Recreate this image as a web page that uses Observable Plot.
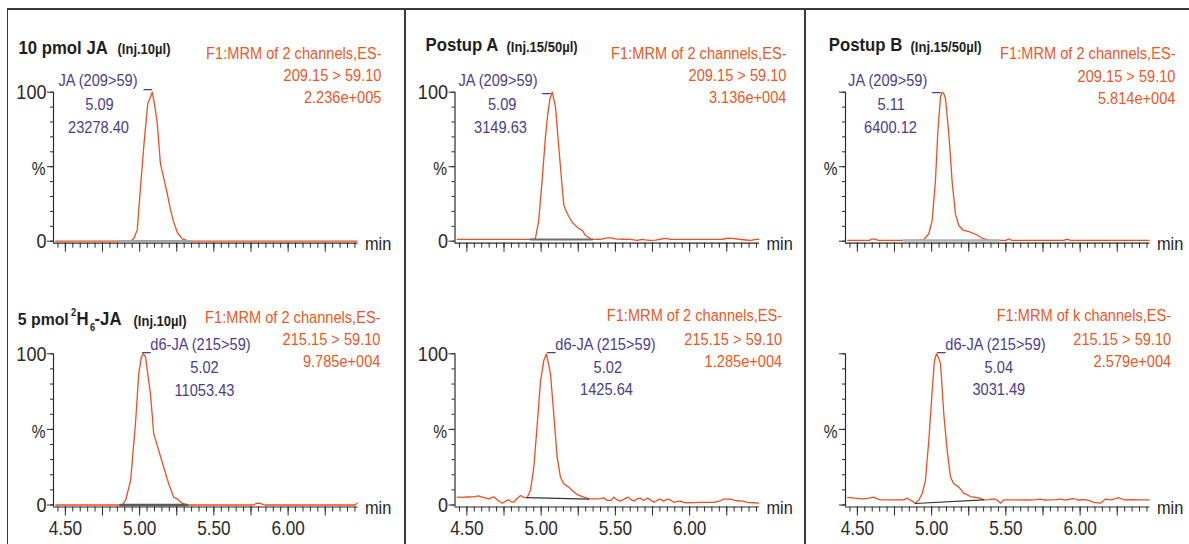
<!DOCTYPE html>
<html><head><meta charset="utf-8">
<script src="https://cdn.jsdelivr.net/npm/d3@7"></script>
<script src="https://cdn.jsdelivr.net/npm/@observablehq/plot@0.6"></script>
<style>
html,body{margin:0;padding:0;background:#fff;}
#wrap{position:relative;width:1189px;height:544px;overflow:hidden;background:#fff;}
#wrap svg{position:absolute;overflow:visible;background:transparent;}
.rule{position:absolute;background:#3a3a3a;}
</style></head><body><div id="wrap"></div>
<script>
// ---------------- data ----------------
// 10 pmol JA standard, JA channel
const ja10Time = [4.435, 4.94, 4.962, 4.984, 5.005, 5.03, 5.055, 5.07, 5.085, 5.10, 5.118, 5.14, 5.163, 5.186, 5.206, 5.226, 5.253, 5.287, 5.331, 6.465];
const ja10Pct  = [0, 0, 2, 7.6, 35, 66, 92.6, 96, 100, 92, 80, 52, 42, 32, 22, 14, 6, 1.5, 0, 0];
const ja10BaseTime = [4.858, 5.343];
const ja10BasePct  = [0, 0];

// 5 pmol d6-JA standard
const d6StdTime = [4.435, 4.883, 4.905, 4.939, 4.972, 4.994, 5.012, 5.025, 5.04, 5.073, 5.095, 5.129, 5.162, 5.196, 5.229, 5.253, 5.286, 5.32, 5.765, 5.785, 5.805, 5.825, 5.845, 6.45, 6.465];
const d6StdPct  = [0, 0, 3, 16, 53.7, 86.8, 98, 100, 97.8, 73.5, 47, 36, 25, 14, 5.2, 4.1, 1.2, 0, 0, 1.0, 1.2, 0.6, 0, 0, 1.2];
const d6StdBaseTime = [4.871, 5.32];
const d6StdBasePct  = [0, 0];

// Postup A, JA channel
const aJaTime = [4.435, 4.95, 4.962, 4.984, 5.007, 5.029, 5.045, 5.06, 5.075, 5.097, 5.119, 5.142, 5.153, 5.176, 5.209, 5.243, 5.277, 5.299, 5.332, 5.36, 5.40, 5.445, 5.47, 5.50, 5.55, 5.60, 5.647, 5.68, 5.70, 5.737, 5.77, 5.80, 5.838, 5.87, 5.95, 6.05, 6.15, 6.22, 6.264, 6.29, 6.33, 6.38, 6.41, 6.44, 6.465];
const aJaPct  = [1.2, 1.2, 2.3, 14, 41, 70, 85.5, 96, 100, 90, 63, 36, 24, 18.4, 12.8, 9.4, 7.2, 3.8, 1.6, 1.2, 1.3, 2.2, 2.2, 1.5, 1.3, 1.2, 0.5, 1.2, 0.9, 0.5, 0.7, 1.3, 1.9, 1.2, 1.2, 1.2, 1.2, 1.3, 2.0, 1.9, 1.3, 0.8, 0.5, 1.0, 1.3];
const aJaBaseTime = [4.928, 5.344];
const aJaBasePct  = [1.2, 1.2];

// Postup B, JA channel
const bJaTime = [4.435, 4.58, 4.60, 4.62, 4.64, 4.90, 4.947, 4.981, 5.004, 5.026, 5.042, 5.06, 5.071, 5.082, 5.093, 5.116, 5.138, 5.161, 5.183, 5.21, 5.25, 5.28, 5.31, 5.34, 5.37, 5.40, 5.50, 5.52, 5.54, 5.89, 5.913, 5.935, 6.465];
const bJaPct  = [0.5, 0.5, 1.4, 1.4, 0.5, 0.5, 1, 5, 14, 41, 74, 97, 100, 99, 96, 72, 40, 18, 10.5, 7.5, 6.5, 5.2, 4, 2, 1, 0.5, 0.5, 1.5, 0.5, 0.5, 1.4, 0.5, 0.5];
const bJaBaseTime = [4.813, 5.452];
const bJaBasePct  = [0.5, 0.5];

// Postup A, d6-JA channel
const aD6Time = [4.435, 4.47, 4.50, 4.547, 4.577, 4.61, 4.648, 4.681, 4.71, 4.738, 4.76, 4.782, 4.80, 4.816, 4.84, 4.861, 4.885, 4.905, 4.928, 4.951, 4.974, 4.996, 5.018, 5.036, 5.063, 5.085, 5.108, 5.13, 5.153, 5.186, 5.209, 5.243, 5.287, 5.321, 5.35, 5.377, 5.40, 5.422, 5.445, 5.47, 5.489, 5.51, 5.534, 5.56, 5.586, 5.605, 5.624, 5.645, 5.669, 5.69, 5.714, 5.735, 5.759, 5.78, 5.804, 5.825, 5.849, 5.87, 5.893, 5.915, 5.938, 5.96, 5.984, 6.03, 6.073, 6.12, 6.163, 6.20, 6.23, 6.275, 6.30, 6.32, 6.36, 6.388, 6.43, 6.465];
const aD6Pct  = [5.2, 5.0, 5.3, 5.4, 6.0, 5.0, 4.1, 5.4, 3.0, 1.2, 2.5, 3.4, 1.9, 1.9, 4.5, 6.3, 5.0, 4.8, 9.6, 25, 53.7, 82, 95.6, 100, 86.8, 60, 31.6, 18.4, 14, 11.8, 9.6, 6.9, 5.2, 4.1, 4.0, 4.1, 4.2, 4.7, 3.0, 3.0, 5.2, 3.5, 2.6, 4.0, 5.2, 3.5, 2.6, 4.0, 4.5, 3.0, 4.5, 3.5, 1.8, 3.0, 3.9, 2.5, 3.9, 3.5, 1.8, 2.2, 2.5, 1.7, 1.5, 1.6, 1.7, 1.7, 1.8, 2.5, 3.9, 3.9, 3.2, 2.8, 2.5, 1.8, 1.5, 1.3];
const aD6BaseTime = [4.905, 5.32];
const aD6BasePct  = [4.9, 3.9];

// Postup B, d6-JA channel
const bD6Time = [4.435, 4.48, 4.543, 4.58, 4.61, 4.635, 4.656, 4.70, 4.75, 4.813, 4.835, 4.869, 4.891, 4.914, 4.936, 4.958, 4.981, 5.004, 5.019, 5.033, 5.048, 5.06, 5.082, 5.105, 5.127, 5.15, 5.183, 5.217, 5.262, 5.318, 5.352, 5.39, 5.419, 5.445, 5.464, 5.486, 5.55, 5.65, 5.70, 5.733, 5.76, 5.80, 5.835, 5.868, 5.90, 5.957, 5.99, 6.03, 6.06, 6.092, 6.137, 6.171, 6.21, 6.26, 6.30, 6.35, 6.40, 6.465];
const bD6Pct  = [5.0, 4.5, 4.1, 4.5, 5.2, 4.0, 3.4, 3.4, 3.4, 3.4, 4.5, 2.6, 1.2, 3.4, 7.4, 16, 42.7, 75.7, 95.6, 100, 97, 93.4, 60, 36, 18.4, 14, 11.8, 7.8, 5.6, 4.7, 3.4, 3.6, 4.1, 3.0, 1.2, 3.4, 3.4, 3.3, 3.5, 3.9, 3.3, 3.4, 3.6, 3.9, 3.2, 4.3, 3.3, 3.6, 3.0, 1.7, 1.2, 3.9, 3.4, 4.8, 3.4, 3.5, 3.4, 3.4];
const bD6BaseTime = [4.89, 5.35];
const bD6BasePct  = [1.0, 3.4];

// texts
const sampleTitles   = ["10 pmol JA", "Postup A", "Postup B"];
const injTexts       = ["(Inj.10µl)", "(Inj.15/50µl)", "(Inj.15/50µl)", "(Inj.10µl)"];
const functionTexts  = ["F1:MRM of 2 channels,ES-", "F1:MRM of 2 channels,ES-", "F1:MRM of 2 channels,ES-", "F1:MRM of 2 channels,ES-", "F1:MRM of 2 channels,ES-", "F1:MRM of k channels,ES-"];
const transitions    = ["209.15 > 59.10", "209.15 > 59.10", "209.15 > 59.10", "215.15 > 59.10", "215.15 > 59.10", "215.15 > 59.10"];
const intensities    = ["2.236e+005", "3.136e+004", "5.814e+004", "9.785e+004", "1.285e+004", "2.579e+004"];
const peakNames      = ["JA (209>59)", "JA (209>59)", "JA (209>59)", "d6-JA (215>59)", "d6-JA (215>59)", "d6-JA (215>59)"];
const retentionTimes = ["5.09", "5.09", "5.11", "5.02", "5.02", "5.04"];
const peakAreas      = ["23278.40", "3149.63", "6400.12", "11053.43", "1425.64", "3031.49"];
const xLabelValues   = [4.5, 5.0, 5.5, 6.0];
const xLabelTexts    = ["4.50", "5.00", "5.50", "6.00"];
const yLabelValues   = [0, 100];
const yLabelTexts    = ["0", "100"];

// ---------------- layout ----------------
const FONT = "'Liberation Sans', Arial, sans-serif";
const C = {trace: "#f04e1e", red: "#f0561f", purple: "#4b3c8c", ink: "#1e1e1e", axis: "#2a2a2a"};
const PX_PER_MIN = 148.5;
const timeDomain = [4.42, 6.47];
const majorTicks = d3.range(18, 26).map(i => +(i * 0.25).toFixed(2));
const minorTicks = d3.range(89, 130).map(i => +(i * 0.05).toFixed(2));

const cols = [
  {left: 0, width: 400, axis: 53},
  {left: 405, width: 400, axis: 454.5},
  {left: 805, width: 384, axis: 845}
];
const rows = [
  {top: 0, height: 272, y100: 91.7, y0: 240.7, axisLine: 242.7},
  {top: 272, height: 272, y100: 353.3, y0: 504.5, axisLine: 506.5}
];

const panels = [
  {col: 0, row: 0, k: 0, time: ja10Time, pct: ja10Pct, bt: ja10BaseTime, bp: ja10BasePct, baseColor: "#a4a4a4", baseWidth: 2.6,
   L: {title: [18, 48], inj: [117, 49], red: 381, redY: [53.3, 75, 97.3], name: [97.5, 80], dash: [143.3, 81.3], rt: [99, 104], area: [98, 127]}},
  {col: 1, row: 0, k: 1, time: aJaTime, pct: aJaPct, bt: aJaBaseTime, bp: aJaBasePct, baseColor: "#6e6e6e", baseWidth: 2,
   L: {title: [425, 45], inj: [506, 47], red: 786, redY: [53.3, 75, 97.3], name: [497.5, 80], dash: [541.7, 84.7], rt: [501.7, 104], area: [500, 127]}},
  {col: 2, row: 0, k: 2, time: bJaTime, pct: bJaPct, bt: bJaBaseTime, bp: bJaBasePct, baseColor: "#b0b0b0", baseWidth: 2.6,
   L: {title: [828.3, 45], inj: [910, 47], red: 1175, redY: [53.3, 75.7, 98], name: [887.2, 80], dash: [931.7, 83.7], rt: [890.7, 104], area: [890, 127]}},
  {col: 0, row: 1, k: 3, time: d6StdTime, pct: d6StdPct, bt: d6StdBaseTime, bp: d6StdBasePct, baseColor: "#5a5a5a", baseWidth: 2.6,
   L: {inj: [133, 321], red: 380, redY: [317, 338.7, 361.3], nameStart: [141.7, 343.7], rt: [204, 367], area: [204, 390.3]}},
  {col: 1, row: 1, k: 4, time: aD6Time, pct: aD6Pct, bt: aD6BaseTime, bp: aD6BasePct, baseColor: "#333333", baseWidth: 1.2,
   L: {red: 781.7, redY: [315.3, 338.7, 361.3], nameStart: [546.7, 343.7], rt: [607.3, 367], area: [606, 389.3]}},
  {col: 2, row: 1, k: 5, time: bD6Time, pct: bD6Pct, bt: bD6BaseTime, bp: bD6BasePct, baseColor: "#333333", baseWidth: 1.2,
   L: {red: 1170.7, redY: [315.3, 338.7, 361.3], nameStart: [936.7, 343.7], rt: [998.3, 367], area: [998.3, 389.3]}}
];

const wrap = document.getElementById("wrap");

// condense every glyph run horizontally about its anchor (the original uses a narrow face)
function condense(svg) {
  svg.querySelectorAll("text").forEach(el => {
    const w = el.closest("[font-weight]");
    const bold = w && /bold|[6-9]00/.test(w.getAttribute("font-weight"));
    const f = bold ? 0.93 : 0.86;
    let tr = el.getAttribute("transform") || "";
    const x = el.getAttribute("x");
    if (x != null && !isNaN(+x)) {
      tr += ` translate(${x},0)`;
      el.removeAttribute("x");
    }
    el.setAttribute("transform", `${tr} scale(${f},1)`);
  });
}

function buildPanel(p) {
  const col = cols[p.col], row = rows[p.row];
  const ml = col.axis - col.left;
  const pw = (timeDomain[1] - timeDomain[0]) * PX_PER_MIN;
  const mr = col.width - ml - pw;
  const mt = row.y100 - row.top;
  const mb = row.top + row.height - row.axisLine;
  const pxPerPct = (row.y0 - row.y100) / 100;
  const yBottom = -(row.axisLine - row.y0) / pxPerPct;
  const T = (s, px, py, o = {}) => Plot.text([s], {
    text: d => d, frameAnchor: "top-left",
    dx: px - col.left - ml, dy: py - row.top - mt,
    lineAnchor: "middle", fontFamily: FONT, ...o
  });
  const trace = p.time.map((t, i) => ({t, v: p.pct[i]}));
  const base = p.bt.map((t, i) => ({t, v: p.bp[i]}));
  const showY = p.col < 2, showX = p.row === 1;
  const L = p.L, k = p.k;
  const red = {textAnchor: "end", fill: C.red, fontSize: 17};
  const pur = {fill: C.purple, fontSize: 17};
  const bold = {fill: C.ink, fontWeight: "bold", textAnchor: "start"};
  const marks = [
    Plot.ruleY([{y: yBottom, x1: timeDomain[0], x2: timeDomain[1]}], {y: "y", x1: "x1", x2: "x2", stroke: C.axis, strokeWidth: 1.2}),
    Plot.ruleX([{x: timeDomain[0], y1: yBottom, y2: 100}], {x: "x", y1: "y1", y2: "y2", stroke: C.axis, strokeWidth: 1.2}),
    Plot.axisY({ticks: d3.range(0, 101, 10), tickSize: 3, tickFormat: () => "", color: C.axis}),
    Plot.axisY({ticks: [0, 50, 100], tickSize: 6, tickPadding: 1, fontSize: 21, color: C.axis,
      tickFormat: d => { const j = yLabelValues.indexOf(d); return showY && j >= 0 ? yLabelTexts[j] : ""; }}),
    Plot.axisX({ticks: minorTicks, tickSize: 5, tickFormat: () => "", color: C.axis}),
    Plot.axisX({ticks: majorTicks, tickSize: 9, tickPadding: 5, fontSize: 20, color: C.axis,
      tickFormat: d => { const j = xLabelValues.indexOf(d); return showX && j >= 0 ? xLabelTexts[j] : ""; }}),
    Plot.line(trace, {x: "t", y: "v", stroke: C.trace, strokeWidth: 1.3}),
    Plot.line(base, {x: "t", y: "v", stroke: p.baseColor, strokeWidth: p.baseWidth}),
    T("%", col.axis - 8, row.y100 + 50 * pxPerPct + 3, {textAnchor: "end", fontSize: 18, fill: C.ink}),
    T("min", col.axis + pw + 7, row.axisLine + 1, {textAnchor: "start", fontSize: 19, fill: C.ink}),
    T(functionTexts[k], L.red, L.redY[0], red),
    T(transitions[k], L.red, L.redY[1], red),
    T(intensities[k], L.red, L.redY[2], red),
    T(retentionTimes[k], L.rt[0], L.rt[1], {...pur, textAnchor: "middle"}),
    T(peakAreas[k], L.area[0], L.area[1], {...pur, textAnchor: "middle"})
  ];
  if (L.name) {
    marks.push(T(peakNames[k], L.name[0], L.name[1], {...pur, textAnchor: "middle"}));
    marks.push(T("_", L.dash[0], L.dash[1], {...pur, textAnchor: "start"}));
  } else {
    marks.push(T("_" + peakNames[k], L.nameStart[0], L.nameStart[1], {...pur, textAnchor: "start"}));
  }
  if (L.title) {
    marks.push(T(sampleTitles[k], L.title[0], L.title[1], {...bold, fontSize: 18}));
  }
  if (k === 3) {
    marks.push(T("5 pmol", 17.3, 318.7, {...bold, fontSize: 17}));
    marks.push(T("2", 70.5, 312, {...bold, fontSize: 10}));
    marks.push(T("H", 76, 318.7, {...bold, fontSize: 18}));
    marks.push(T("6", 89.5, 327, {...bold, fontSize: 10}));
    marks.push(T("-JA", 94, 318.7, {...bold, fontSize: 18}));
  }
  if (L.inj) {
    marks.push(T(injTexts[k], L.inj[0], L.inj[1], {...bold, fontSize: 14}));
  }
  const svg = Plot.plot({
    width: col.width, height: row.height,
    marginLeft: ml, marginRight: mr, marginTop: mt, marginBottom: mb,
    x: {domain: timeDomain, label: null},
    y: {domain: [yBottom, 100], label: null},
    style: {fontFamily: FONT, color: C.axis, background: "transparent", overflow: "visible"},
    marks
  });
  svg.style.left = col.left + "px";
  svg.style.top = row.top + "px";
  wrap.appendChild(svg);
  condense(svg);
}

panels.forEach(buildPanel);

// panel frame lines
[[7, 8, 1182, 1.5], [6.5, 8, 1.5, 536], [404, 8, 1.5, 536], [804, 8, 1.5, 536]].forEach(([l, t, w, h]) => {
  const d = document.createElement("div");
  d.className = "rule";
  Object.assign(d.style, {left: l + "px", top: t + "px", width: w + "px", height: h + "px"});
  wrap.appendChild(d);
});
</script></body></html>
